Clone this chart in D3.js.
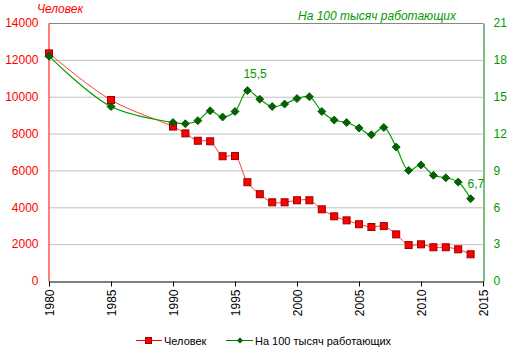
<!DOCTYPE html>
<html><head><meta charset="utf-8">
<script src="https://cdn.jsdelivr.net/npm/d3@7"></script>
<style>body{margin:0;background:#fff}svg{display:block;font-family:"Liberation Sans",Arial,sans-serif}</style>
</head><body><svg id="c" width="513" height="357"></svg>
<script>
const years = [1980,1985,1990,1991,1992,1993,1994,1995,1996,1997,1998,1999,2000,2001,2002,2003,2004,2005,2006,2007,2008,2009,2010,2011,2012,2013,2014];
const people = [12350,9820,8380,8010,7610,7580,6770,6780,5360,4710,4270,4270,4380,4380,3890,3510,3290,3080,2930,2980,2530,1950,1990,1830,1830,1720,1450];
const per100k = [18.3,14.2,12.9,12.8,13.05,13.85,13.35,13.8,15.5,14.8,14.2,14.4,14.85,15.0,13.8,13.1,12.9,12.45,11.9,12.5,10.9,9.0,9.45,8.6,8.4,8.05,6.7];
const leftTicks = [0,2000,4000,6000,8000,10000,12000,14000];
const rightTicks = [0,3,6,9,12,15,18,21];
const xTicks = [1980,1985,1990,1995,2000,2005,2010,2015];
const labelled = {1996:"15,5", 2014:"6,7"};

const svg = d3.select("#c");
const L=49,R=483,T=23,B=281;
const x = d3.scaleLinear([1980,2015],[L,R]);
const yL = d3.scaleLinear([0,14000],[B,T]);
const yR = d3.scaleLinear([0,21],[B,T]);

// gridlines
svg.append("g").selectAll("line").data(leftTicks.filter(d=>d>0)).join("line")
  .attr("x1",L).attr("x2",R).attr("y1",d=>yL(d)+0.5).attr("y2",d=>yL(d)+0.5)
  .attr("stroke",d=>d===14000?"#868686":"#c0c0c0").attr("stroke-width",1);

// left axis
const gl = svg.append("g").attr("transform",`translate(${L-0.5},0)`)
  .call(d3.axisLeft(yL).tickValues(leftTicks).tickSize(0).tickPadding(10).tickFormat(d3.format("d")));
gl.select(".domain").attr("stroke","#ff0000");
gl.selectAll("text").attr("fill","#ff0000").attr("font-size",12).attr("font-family","Liberation Sans, Arial");

// right axis
const gr = svg.append("g").attr("transform",`translate(${R+0.5},0)`)
  .call(d3.axisRight(yR).tickValues(rightTicks).tickSize(0).tickPadding(10).tickFormat(d3.format("d")));
gr.select(".domain").attr("stroke","#007a00");
gr.selectAll("text").attr("fill","#009a00").attr("font-size",12).attr("font-family","Liberation Sans, Arial");

// x axis
const gx = svg.append("g").attr("transform",`translate(0,${B+0.5})`)
  .call(d3.axisBottom(x).tickValues(xTicks).tickSize(5).tickSizeOuter(0).tickFormat(d3.format("d")));
gx.select(".domain").attr("stroke","#000");
gx.selectAll(".tick line").attr("stroke","#000");
gx.selectAll("text").attr("fill","#000").attr("font-size",12).attr("font-family","Liberation Sans, Arial")
  .attr("transform","rotate(-90)").attr("text-anchor","end").attr("x",-8).attr("y",0).attr("dy","0.35em");

// lines
const lineL = d3.line().x((d,i)=>x(years[i])).y(d=>yL(d)).curve(d3.curveCatmullRom.alpha(0.5));
const lineR = d3.line().x((d,i)=>x(years[i])).y(d=>yR(d)).curve(d3.curveCatmullRom.alpha(0.5));
svg.append("path").attr("d",lineL(people)).attr("fill","none").attr("stroke","#ff3c3c").attr("stroke-width",1);
svg.append("path").attr("d",lineR(per100k)).attr("fill","none").attr("stroke","#00a000").attr("stroke-width",1.2);

// markers
svg.append("g").selectAll("rect").data(people).join("rect")
  .attr("x",(d,i)=>x(years[i])-3.5).attr("y",d=>yL(d)-3.5).attr("width",7).attr("height",7)
  .attr("fill","#ff0000").attr("stroke","#9a0000").attr("stroke-width",1);
svg.append("g").selectAll("path").data(per100k).join("path")
  .attr("d",(d,i)=>{const cx=x(years[i]),cy=yR(d);return `M${cx},${cy-4}L${cx+4},${cy}L${cx},${cy+4}L${cx-4},${cy}Z`;})
  .attr("fill","#006400").attr("stroke","#004800").attr("stroke-width",0.8);

// data labels
svg.append("g").selectAll("text").data(years.map((y,i)=>[y,per100k[i]]).filter(d=>labelled[d[0]])).join("text")
  .attr("x",d=>d[0]===1996?x(d[0])-4:x(d[0])-3).attr("y",d=>d[0]===1996?yR(d[1])-13:yR(d[1])-11)
  .attr("fill","#009a00").attr("font-size",12).text(d=>labelled[d[0]]);

// axis titles
svg.append("text").attr("x",37).attr("y",13).attr("fill","#ff0000").attr("font-size",12).attr("font-style","italic").text("Человек");
svg.append("text").attr("x",298).attr("y",20).attr("fill","#009a00").attr("font-size",12).attr("font-style","italic").text("На 100 тысяч работающих");

// legend
const lg = svg.append("g");
lg.append("line").attr("x1",136).attr("x2",162).attr("y1",340.5).attr("y2",340.5).attr("stroke","#ff0000");
lg.append("rect").attr("x",145.5).attr("y",337.5).attr("width",6).attr("height",6).attr("fill","#ff0000").attr("stroke","#9a0000");
lg.append("text").attr("x",164).attr("y",345).attr("font-size",11).attr("fill","#000").text("Человек");
lg.append("line").attr("x1",226).attr("x2",253).attr("y1",340.5).attr("y2",340.5).attr("stroke","#008000");
lg.append("path").attr("d","M240,337.5L243,340.5L240,343.5L237,340.5Z").attr("fill","#006400");
lg.append("text").attr("x",255).attr("y",345).attr("font-size",11).attr("fill","#000").text("На 100 тысяч работающих");
</script></body></html>
